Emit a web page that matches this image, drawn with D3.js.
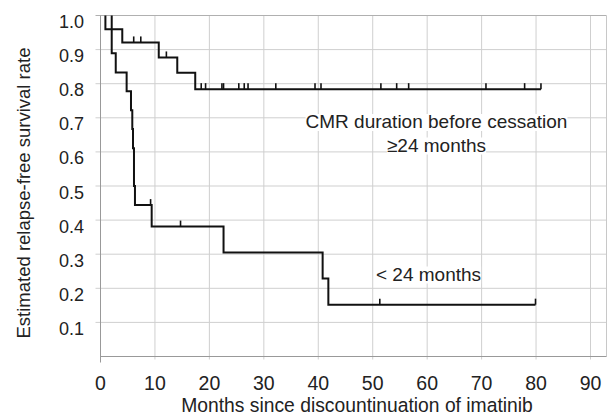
<!DOCTYPE html>
<html>
<head>
<meta charset="utf-8">
<script src="https://cdn.jsdelivr.net/npm/d3@7"></script>
<style>
  body { margin: 0; background: #fff; }
  svg text { font-family: "Liberation Sans", Arial, sans-serif; fill: #222; }
</style>
</head>
<body>
<div id="chart"></div>
<script>
// data
var xTicks = [0, 10, 20, 30, 40, 50, 60, 70, 80, 90]
var yTicks = [0.1, 0.2, 0.3, 0.4, 0.5, 0.6, 0.7, 0.8, 0.9, 1.0]

// >=24 months group: event times and survival after each event
var longTimes = [0.9, 4.0, 10.7, 14.1, 17.4]
var longSurv = [0.960, 0.921, 0.877, 0.832, 0.784]
var longCensor = [6.1, 7.4, 12.1, 18.5, 19.3, 22.3, 22.6, 25.4, 26.4, 27.1, 32.2, 39.4, 40.5, 51.5, 54.4, 56.6, 70.8, 77.9, 80.9]
var longEnd = 80.9

// < 24 months group
var shortTimes = [2.06, 2.8, 4.8, 5.6, 5.84, 5.97, 6.15, 6.33, 9.4, 22.6, 40.8, 41.85]
var shortSurv = [0.889, 0.833, 0.778, 0.722, 0.667, 0.611, 0.5, 0.444, 0.381, 0.305, 0.229, 0.152]
var shortCensor = [9.2, 14.7, 51.3, 79.9]
var shortEnd = 79.9

var width = 608
    height = 419

var svg = d3.select("#chart")
  .append("svg")
    .attr("width", width)
    .attr("height", height)

var x = d3.scaleLinear().domain([0, 90]).range([100.5, 590.5])
var y = d3.scaleLinear().domain([0, 1]).range([356.5, 15.5])
var plotRight = 606.5

// gridlines
svg.append("g").selectAll("line")
  .data(xTicks.slice(1))
  .enter().append("line")
    .attr("x1", d => x(d)).attr("x2", d => x(d))
    .attr("y1", y(1)).attr("y2", y(0) + 3)
    .attr("stroke", "#cfcfcf")
svg.append("g").selectAll("line")
  .data(yTicks)
  .enter().append("line")
    .attr("x1", x(0) - 5).attr("x2", plotRight)
    .attr("y1", d => y(d)).attr("y2", d => y(d))
    .attr("stroke", d => d == 1 ? "#b0b0b0" : "#cfcfcf")

// frame / axes
svg.append("line").attr("x1", plotRight).attr("x2", plotRight)
  .attr("y1", y(1)).attr("y2", y(0)).attr("stroke", "#c8c8c8")
svg.append("line").attr("x1", x(0)).attr("x2", plotRight)
  .attr("y1", y(0)).attr("y2", y(0)).attr("stroke", "#999")
svg.append("line").attr("x1", x(0)).attr("x2", x(0))
  .attr("y1", y(1)).attr("y2", y(0) + 6).attr("stroke", "#999")

// tick labels
svg.append("g").selectAll("text")
  .data(xTicks)
  .enter().append("text")
    .attr("x", d => x(d))
    .attr("y", 389.5)
    .attr("text-anchor", "middle")
    .style("font-size", "19.5px")
    .text(d => d)
svg.append("g").selectAll("text")
  .data(yTicks)
  .enter().append("text")
    .attr("x", 84)
    .attr("y", d => y(d) + 12.5)
    .attr("text-anchor", "end")
    .style("font-size", "18px")
    .text(d => d.toFixed(1))

// axis titles
svg.append("text")
  .attr("x", 357).attr("y", 411.5)
  .attr("text-anchor", "middle")
  .style("font-size", "19.3px")
  .text("Months since discountinuation of imatinib")
svg.append("text")
  .attr("transform", "translate(30,193) rotate(-90)")
  .attr("text-anchor", "middle")
  .style("font-size", "18.5px")
  .text("Estimated relapse-free survival rate")

// survival curves
var line = d3.line()
  .x(d => x(d[0]))
  .y(d => y(d[1]))
  .curve(d3.curveStepAfter)

function curvePoints(times, surv, end) {
  var pts = [[times[0], 1]]
  times.forEach((t, i) => pts.push([t, surv[i]]))
  pts.push([end, surv[surv.length - 1]])
  return pts
}

function survAt(times, surv, t) {
  var s = 1
  times.forEach((tt, i) => { if (tt <= t) s = surv[i] })
  return s
}

function drawGroup(times, surv, censor, end) {
  svg.append("path")
    .datum(curvePoints(times, surv, end))
    .attr("d", line)
    .attr("fill", "none")
    .attr("stroke", "#111")
    .attr("stroke-width", 2)
  svg.append("g").selectAll("line")
    .data(censor)
    .enter().append("line")
      .attr("x1", d => x(d)).attr("x2", d => x(d))
      .attr("y1", d => y(survAt(times, surv, d)))
      .attr("y2", d => y(survAt(times, surv, d)) - 6)
      .attr("stroke", "#111")
      .attr("stroke-width", 1.6)
}

drawGroup(longTimes, longSurv, longCensor, longEnd)
drawGroup(shortTimes, shortSurv, shortCensor, shortEnd)

// group labels, each line on a white box
function label(lines, xp, yp, anchor) {
  lines.forEach((s, i) => {
    var g = svg.append("g")
    var t = g.append("text")
      .attr("x", xp).attr("y", yp + i * 23.5)
      .attr("text-anchor", anchor)
      .style("font-size", "19px")
      .text(s)
    var b = t.node().getBBox()
    g.insert("rect", "text")
      .attr("x", b.x).attr("y", b.y + 3)
      .attr("width", b.width).attr("height", b.height - 4)
      .attr("fill", "#fff")
  })
}

label(["CMR duration before cessation", "\u226524 months"], 436.5, 128, "middle")
label(["< 24 months"], 376, 280.5, "start")
</script>
</body>
</html>
